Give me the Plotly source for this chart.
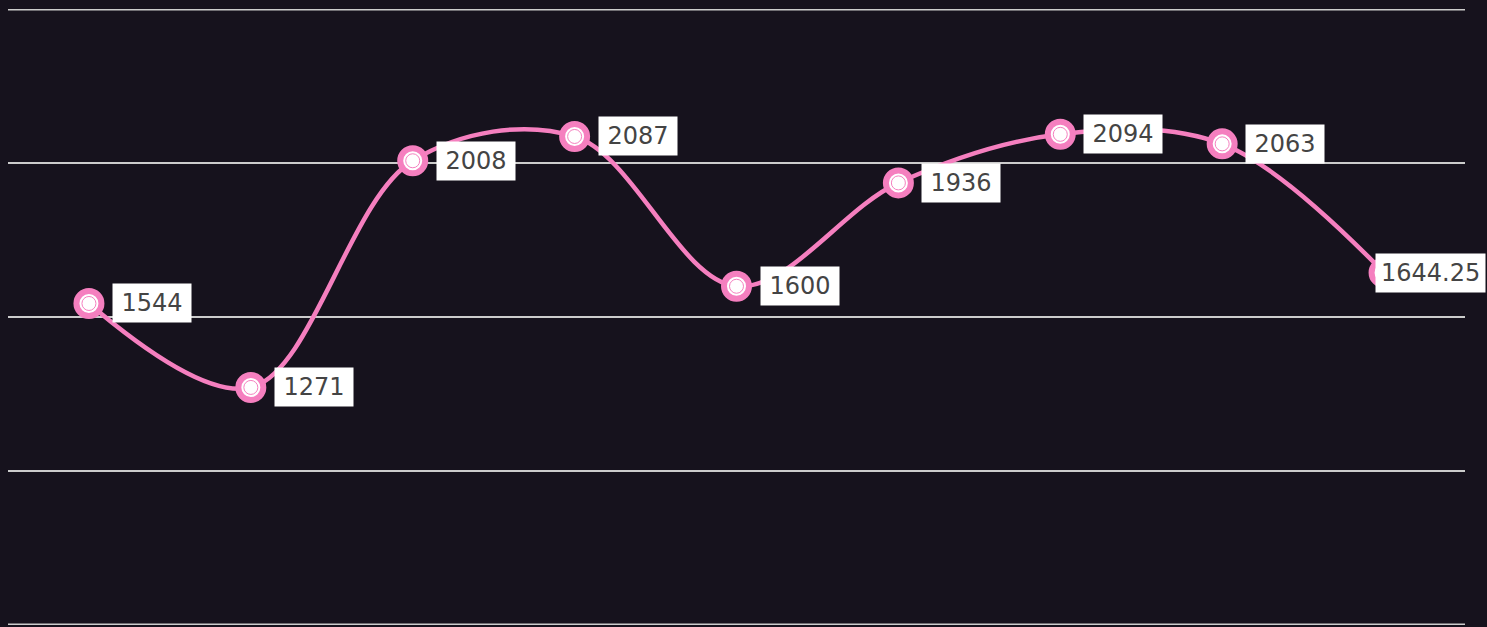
import plotly.graph_objects as go

categories = ["1", "2", "3", "4", "5", "6", "7", "8", "9"]
values = [1544, 1271, 2008, 2087, 1600, 1936, 2094, 2063, 1644.25]
labels = ["1544", "1271", "2008", "2087", "1600", "1936", "2094", "2063", "1644.25"]
y_min, y_max, y_step = 500, 2500, 500

pink = "#f57fbf"
bg = "#16121d"
grid = "#cccccc"

fig = go.Figure()
fig.add_trace(go.Scatter(
    x=categories, y=values, mode="lines+markers",
    line=dict(color=pink, width=4.5, shape="spline", smoothing=1),
    marker=dict(size=25, color="white", line=dict(color=pink, width=6)),
    hoverinfo="skip", showlegend=False,
))
fig.add_trace(go.Scatter(
    x=categories, y=values, mode="markers",
    marker=dict(size=14, color="white", line=dict(color=pink, width=1)),
    hoverinfo="skip", showlegend=False,
))

for i, (v, t) in enumerate(zip(values, labels)):
    last = i == len(values) - 1
    fig.add_annotation(
        x=i, y=v, text=t, showarrow=False,
        xanchor="left", yanchor="middle",
        xshift=-9 if last else 23,
        bgcolor="white", borderpad=5,
        width=None if last else 68,
        font=dict(family="DejaVu Sans", size=24, color="#444444"),
    )

for yv in (y_min, y_max):
    fig.add_shape(type="line", xref="paper", x0=0, x1=1, yref="y", y0=yv, y1=yv,
                  line=dict(color=grid, width=2), layer="below")

fig.update_layout(
    width=1487, height=627,
    margin=dict(l=8, r=22, t=9, b=2),
    paper_bgcolor=bg, plot_bgcolor=bg,
    xaxis=dict(type="category", range=[-0.5, 8.5], showgrid=False,
               showticklabels=False, zeroline=False, showline=False),
    yaxis=dict(range=[y_min - 1.5, y_max + 1.5], dtick=y_step, tick0=y_min, showgrid=True,
               gridcolor=grid, gridwidth=2, showticklabels=False,
               zeroline=False, showline=False),
)
fig.write_html("out.html", config={"displayModeBar": False},
               post_script="document.body.style.margin='0';")
